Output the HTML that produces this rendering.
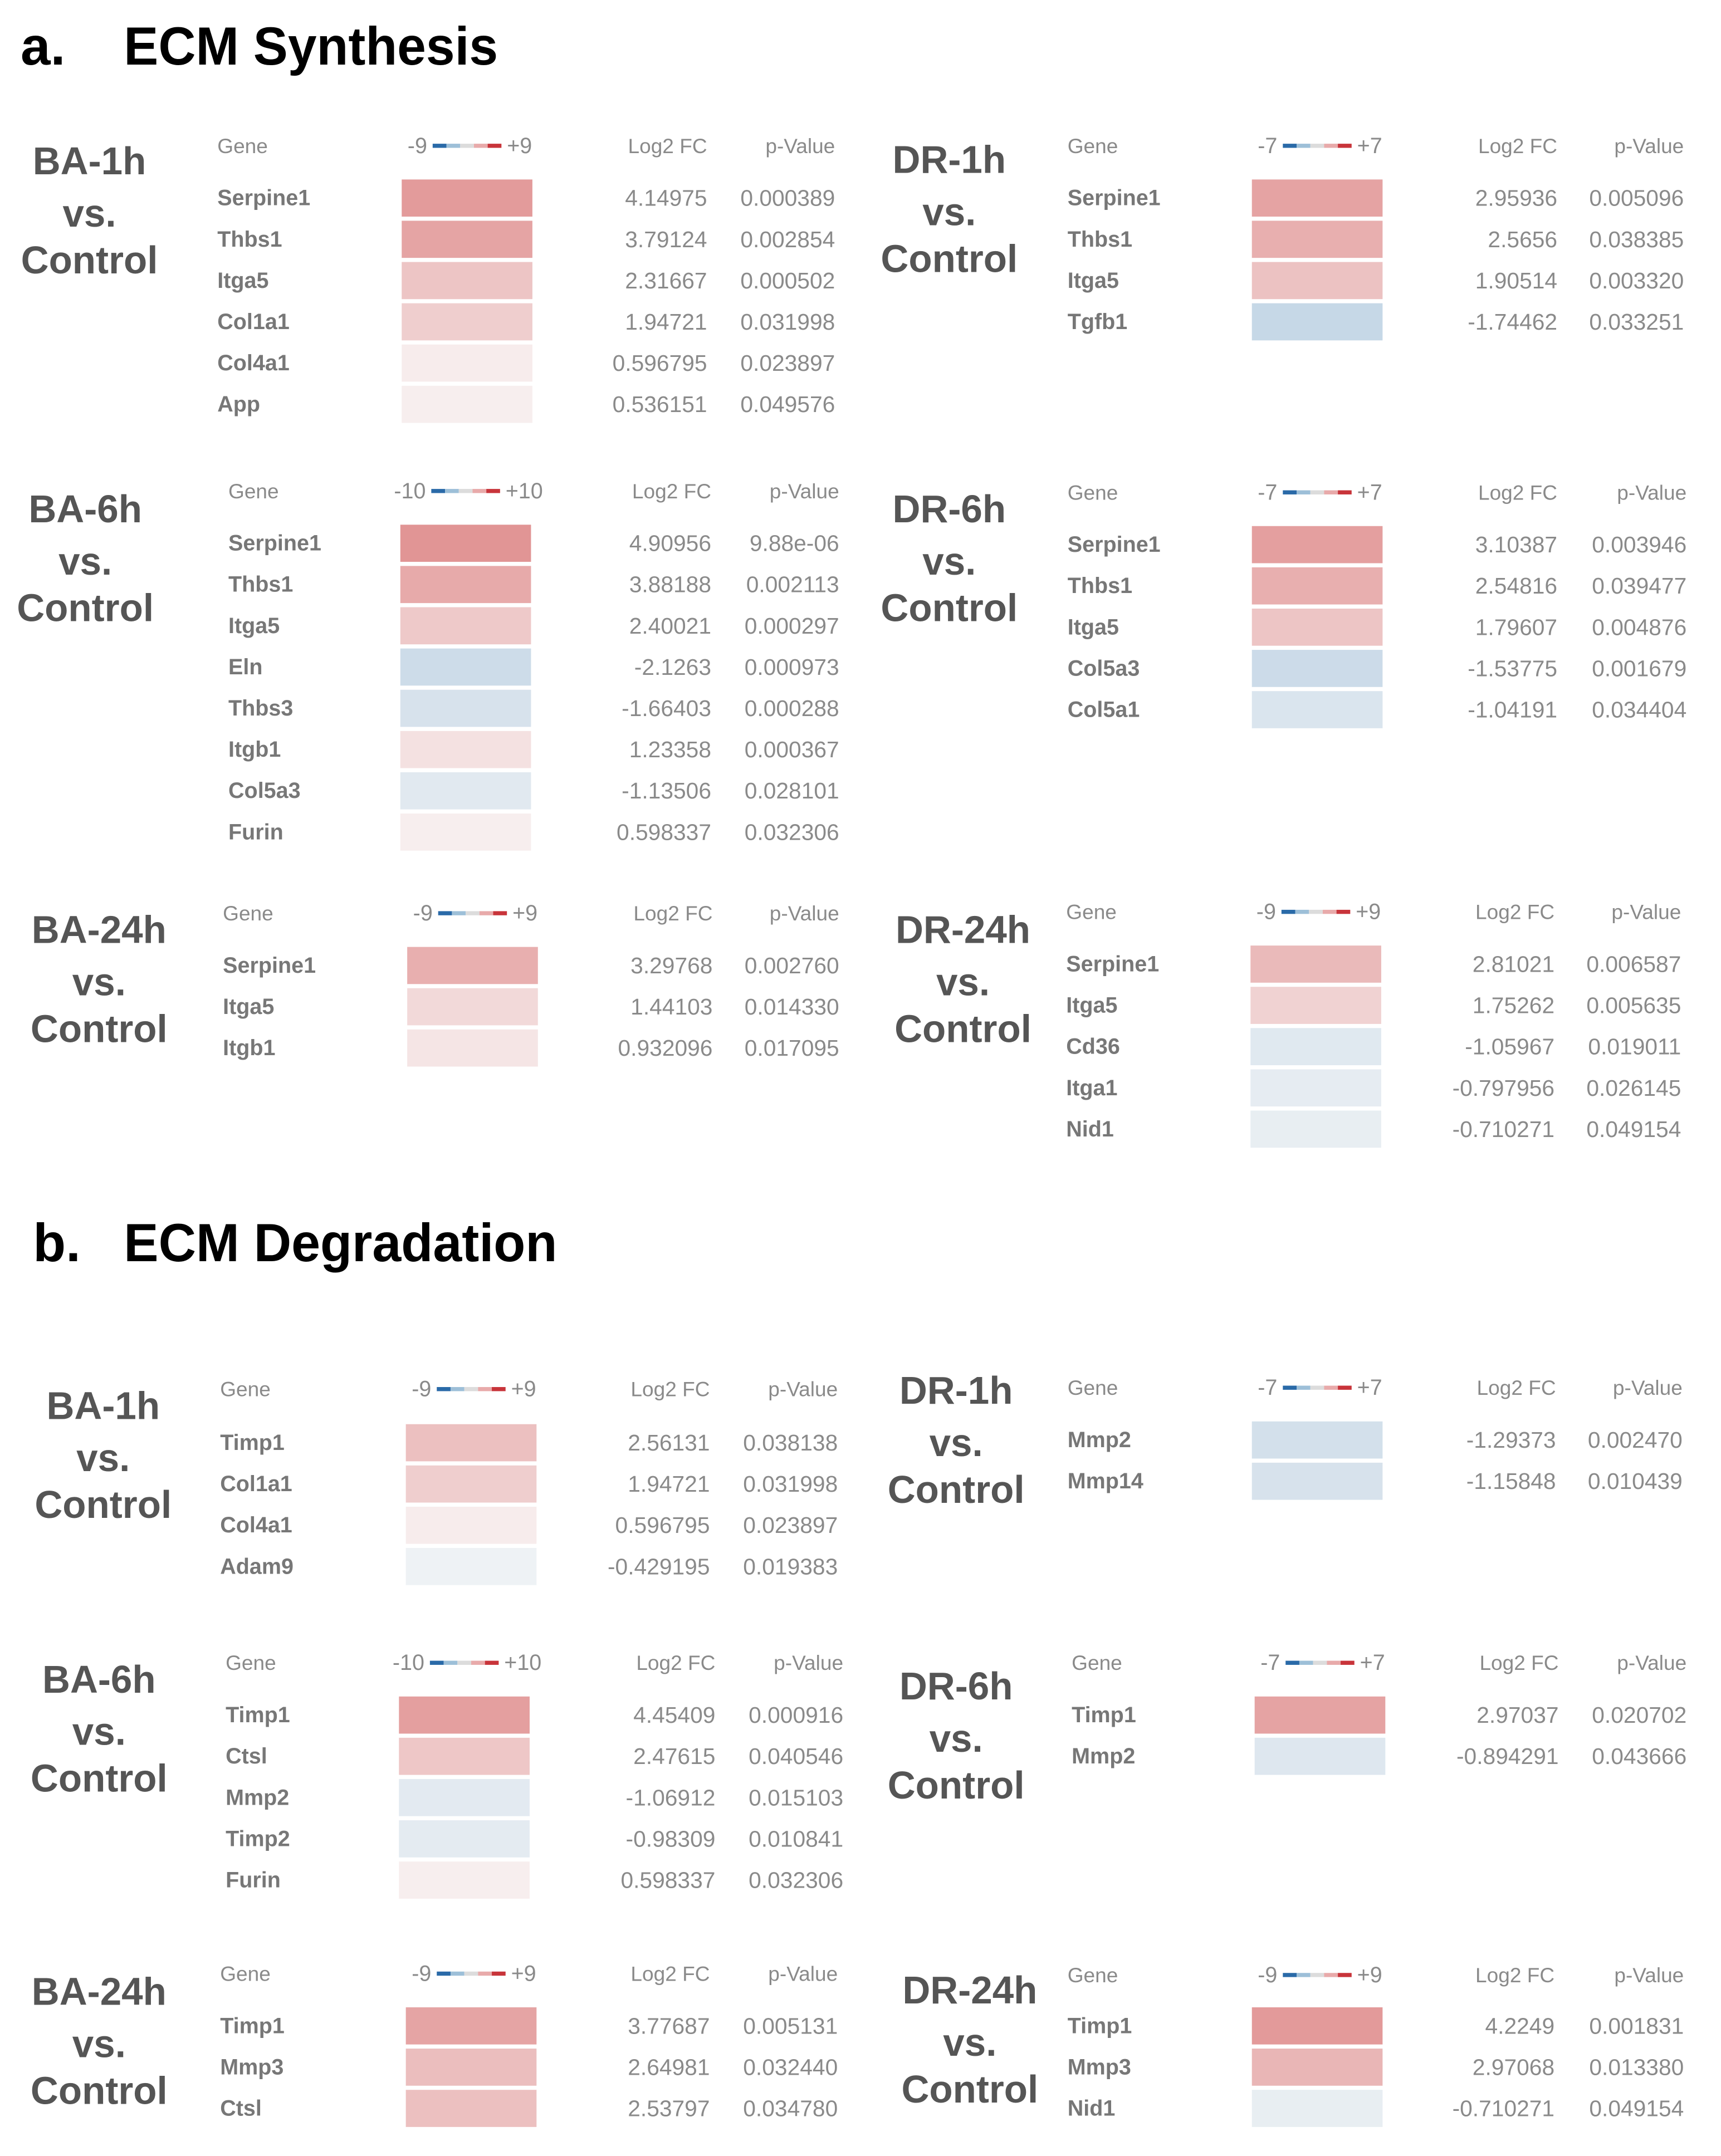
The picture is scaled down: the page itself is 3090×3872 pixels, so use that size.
<!DOCTYPE html>
<html><head><meta charset="utf-8"><style>
html,body{margin:0;padding:0;background:#fff}
svg{display:block}
text{font-family:"Liberation Sans",sans-serif}
</style></head><body>
<svg id="chart" width="3090" height="3872" viewBox="0 0 1251 1567.6" preserveAspectRatio="none" xmlns="http://www.w3.org/2000/svg">
<text x="15" y="47" font-size="39" font-weight="bold" fill="#000">a.</text>
<text x="90" y="47" font-size="39" font-weight="bold" fill="#000" textLength="272" lengthAdjust="spacingAndGlyphs">ECM Synthesis</text>
<text x="24" y="917" font-size="39" font-weight="bold" fill="#000">b.</text>
<text x="90" y="917" font-size="39" font-weight="bold" fill="#000" textLength="315" lengthAdjust="spacingAndGlyphs">ECM Degradation</text>
<g id="panels"></g>
</svg>
<script>
const titles = ["BA-1h","DR-1h","BA-6h","DR-6h","BA-24h","DR-24h","BA-1h","DR-1h","BA-6h","DR-6h","BA-24h","DR-24h"];
const scaleMax = [9,7,10,7,9,9,9,7,10,7,9,9];
const genes = [
 ["Serpine1","Thbs1","Itga5","Col1a1","Col4a1","App"],
 ["Serpine1","Thbs1","Itga5","Tgfb1"],
 ["Serpine1","Thbs1","Itga5","Eln","Thbs3","Itgb1","Col5a3","Furin"],
 ["Serpine1","Thbs1","Itga5","Col5a3","Col5a1"],
 ["Serpine1","Itga5","Itgb1"],
 ["Serpine1","Itga5","Cd36","Itga1","Nid1"],
 ["Timp1","Col1a1","Col4a1","Adam9"],
 ["Mmp2","Mmp14"],
 ["Timp1","Ctsl","Mmp2","Timp2","Furin"],
 ["Timp1","Mmp2"],
 ["Timp1","Mmp3","Ctsl"],
 ["Timp1","Mmp3","Nid1"]
];
const log2fc = [
 ["4.14975","3.79124","2.31667","1.94721","0.596795","0.536151"],
 ["2.95936","2.5656","1.90514","-1.74462"],
 ["4.90956","3.88188","2.40021","-2.1263","-1.66403","1.23358","-1.13506","0.598337"],
 ["3.10387","2.54816","1.79607","-1.53775","-1.04191"],
 ["3.29768","1.44103","0.932096"],
 ["2.81021","1.75262","-1.05967","-0.797956","-0.710271"],
 ["2.56131","1.94721","0.596795","-0.429195"],
 ["-1.29373","-1.15848"],
 ["4.45409","2.47615","-1.06912","-0.98309","0.598337"],
 ["2.97037","-0.894291"],
 ["3.77687","2.64981","2.53797"],
 ["4.2249","2.97068","-0.710271"]
];
const pvals = [
 ["0.000389","0.002854","0.000502","0.031998","0.023897","0.049576"],
 ["0.005096","0.038385","0.003320","0.033251"],
 ["9.88e-06","0.002113","0.000297","0.000973","0.000288","0.000367","0.028101","0.032306"],
 ["0.003946","0.039477","0.004876","0.001679","0.034404"],
 ["0.002760","0.014330","0.017095"],
 ["0.006587","0.005635","0.019011","0.026145","0.049154"],
 ["0.038138","0.031998","0.023897","0.019383"],
 ["0.002470","0.010439"],
 ["0.000916","0.040546","0.015103","0.010841","0.032306"],
 ["0.020702","0.043666"],
 ["0.005131","0.032440","0.034780"],
 ["0.001831","0.013380","0.049154"]
];

const layout = [
 {lc:65,l1:117,hd:106,gx:158,bx:292,lr:514,pr:607,r0:144},
 {lc:690,l1:116,hd:106,gx:776,bx:910,lr:1132,pr:1224,r0:144},
 {lc:62,l1:370,hd:357,gx:166,bx:291,lr:517,pr:610,r0:395},
 {lc:690,l1:370,hd:358,gx:776,bx:910,lr:1132,pr:1226,r0:396},
 {lc:72,l1:676,hd:664,gx:162,bx:296,lr:518,pr:610,r0:702},
 {lc:700,l1:676,hd:663,gx:775,bx:909,lr:1130,pr:1222,r0:701},
 {lc:75,l1:1022,hd:1010,gx:160,bx:295,lr:516,pr:609,r0:1049},
 {lc:695,l1:1011,hd:1009,gx:776,bx:910,lr:1131,pr:1223,r0:1047},
 {lc:72,l1:1221,hd:1209,gx:164,bx:290,lr:520,pr:613,r0:1247},
 {lc:695,l1:1226,hd:1209,gx:779,bx:912,lr:1133,pr:1226,r0:1247},
 {lc:72,l1:1448,hd:1435,gx:160,bx:295,lr:516,pr:609,r0:1473},
 {lc:705,l1:1447,hd:1436,gx:776,bx:910,lr:1130,pr:1224,r0:1473}
];
const NS="http://www.w3.org/2000/svg";
const root=document.getElementById('panels');
function mk(tag,attrs,txt){const e=document.createElementNS(NS,tag);for(const k in attrs)e.setAttribute(k,attrs[k]);if(txt!==undefined)e.textContent=txt;return e;}
function colorFor(v,max){
  const t=Math.min(1,Math.abs(v)/max);
  let r,g,b;
  if(v>=0){r=250-50*t;g=250-205*t;b=250-205*t;}
  else{r=248-200*t;g=248-130*t;b=248-70*t;}
  return `rgb(${Math.round(r)},${Math.round(g)},${Math.round(b)})`;
}
const step=30, bw=95, bh=27;
titles.forEach((title,i)=>{
  const L=layout[i];
  const g=mk('g',{});
  
  
  [title,"vs.","Control"].forEach((s,j)=>{
    const t=mk('text',{x:L.lc,y:L.l1+[0,38,72][j],'text-anchor':'middle','dominant-baseline':'central','font-size':28,'font-weight':'bold',fill:'#555'},s);
    
    
    g.appendChild(t);
  });
  const hdr=[['Gene',L.gx,'start'],['Log2 FC',L.lr,'end'],['p-Value',L.pr,'end']];
  hdr.forEach(h=>{
    const t=mk('text',{x:h[1],y:L.hd,'text-anchor':h[2],'dominant-baseline':'central','font-size':15,fill:'#8a8a8a'},h[0]);
    
    
    g.appendChild(t);
  });
  const m=scaleMax[i];
  const cx=L.bx+bw/2;
  const lo=mk('text',{x:cx-29,y:L.hd,'text-anchor':'end','dominant-baseline':'central','font-size':16,fill:'#8a8a8a'},'-'+m);
  
  
  g.appendChild(lo);
  const hi=mk('text',{x:cx+29,y:L.hd,'text-anchor':'start','dominant-baseline':'central','font-size':16,fill:'#8a8a8a'},'+'+m);
  
  
  g.appendChild(hi);
  const segs=['#2a6aa8','#9dbfd8','#dcdcdc','#e8aaaa','#c8343a'];
  segs.forEach((c,k)=>{
    const r=mk('rect',{x:cx-25+k*10,y:L.hd-1.5,width:10,height:3,fill:c});
    
    
    g.appendChild(r);
  });
  genes[i].forEach((gn,k)=>{
    const y=L.r0+k*step;
    const v=parseFloat(log2fc[i][k]);
    const gt=mk('text',{x:L.gx,y:y,'dominant-baseline':'central','font-size':16,'font-weight':'bold',fill:'#777'},gn);
    
    
    g.appendChild(gt);
    const r=mk('rect',{x:L.bx,y:y-bh/2,width:bw,height:bh,fill:colorFor(v,m)});
    
    
    g.appendChild(r);
    const lt=mk('text',{x:L.lr,y:y,'text-anchor':'end','dominant-baseline':'central','font-size':16.5,fill:'#8a8a8a'},log2fc[i][k]);
    
    
    g.appendChild(lt);
    const pt=mk('text',{x:L.pr,y:y,'text-anchor':'end','dominant-baseline':'central','font-size':16.5,fill:'#8a8a8a'},pvals[i][k]);
    
    
    g.appendChild(pt);
  });
  root.appendChild(g);
});
</script>
</body></html>
